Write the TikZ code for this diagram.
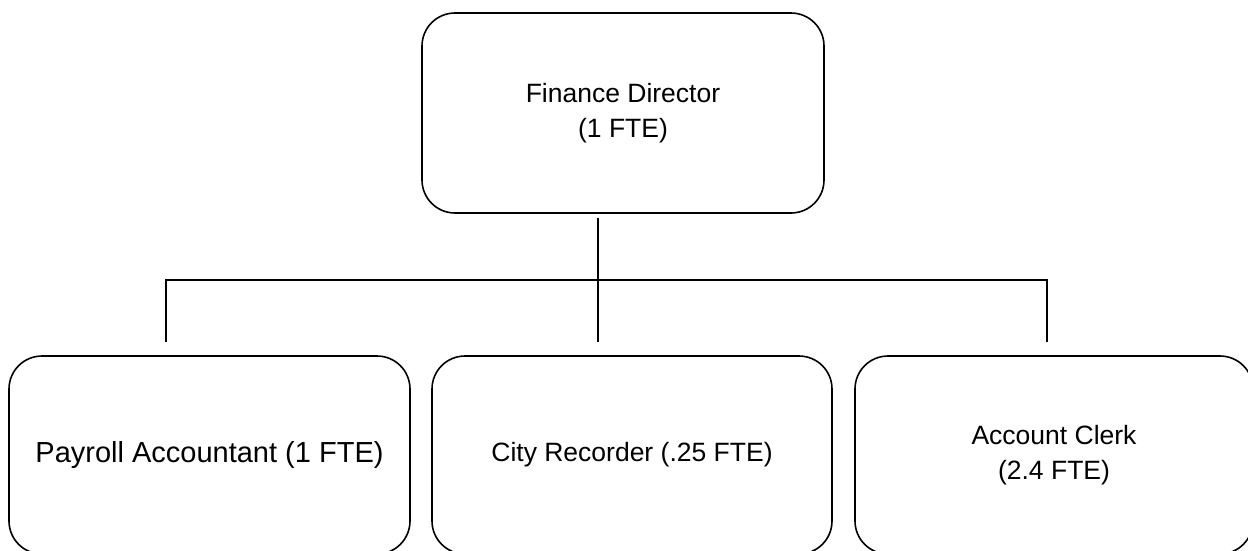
\documentclass[tikz,border=0pt]{standalone}
\usepackage{fontspec}
\setmainfont{Liberation Sans}
\begin{document}
\begin{tikzpicture}[x=1pt,y=-1pt,
  box/.style={draw=black, line width=1.6pt, rounded corners=33pt, align=center,
    inner sep=0pt, font=\fontsize{26.5}{35}\selectfont},
  link/.style={draw=black, line width=1.6pt},
  trunk/.style={draw=black, line width=2.6pt}]
\useasboundingbox (0,0) rectangle (1248,550);
\clip (0,0) rectangle (1248,550);
\fill[white] (0,0) rectangle (1248,550);

% positions
\node[box, minimum width=402pt, minimum height=200pt] (dir) at (623,113)
  {Finance Director\\(1 FTE)};
\node[box, minimum width=401pt, minimum height=198pt,
  font=\fontsize{29}{35}\selectfont] (pay) at (209.5,455) {Payroll Accountant (1 FTE)};
\node[box, minimum width=400pt, minimum height=198pt] (rec) at (632,455)
  {City Recorder (.25 FTE)};
\node[box, minimum width=398pt, minimum height=198pt] (clk) at (1054,455)
  {Account Clerk\\(2.4 FTE)};

% branch points
\coordinate (hub) at (598,280);
\coordinate (lb) at (166,280);
\coordinate (rb) at (1047,280);

% connectors
\draw[trunk] ([yshift=-4pt]dir.south -| hub) -- ([yshift=13pt]rec.north -| hub);
\draw[link] ([yshift=13pt]pay.north -| lb) -- (lb) -- (rb) -- ([yshift=13pt]clk.north -| rb);
\end{tikzpicture}
\end{document}
